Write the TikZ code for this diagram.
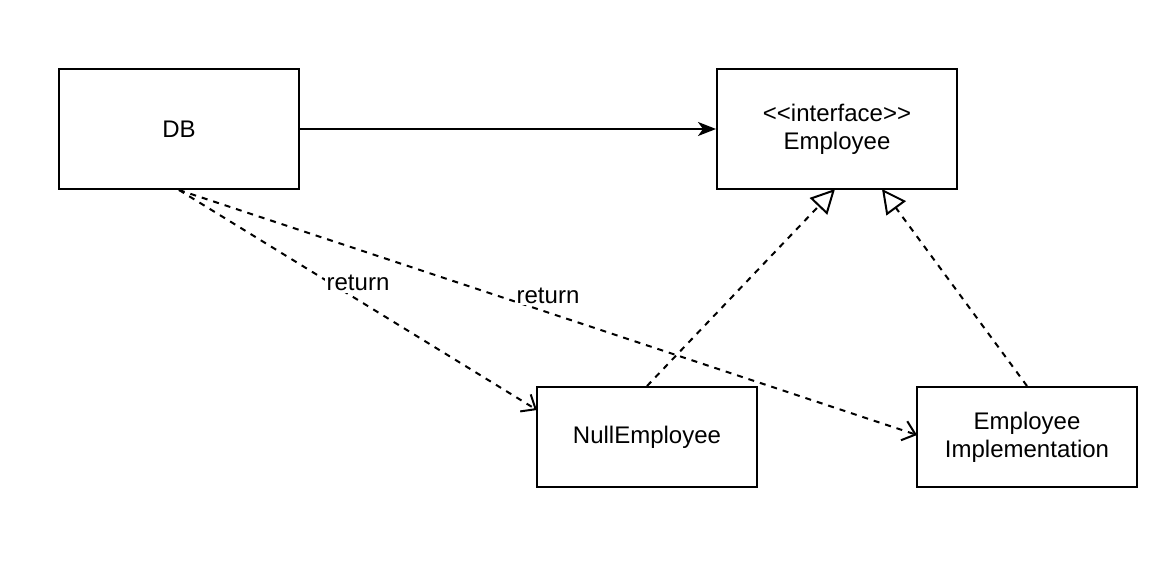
\documentclass[tikz,border=0pt]{standalone}
\usepackage{fontspec}
\setmainfont{Liberation Sans}[Ligatures=NoCommon]
\usetikzlibrary{arrows.meta}
\tikzset{x=0.5pt, y=-0.5pt, every picture/.style={line width=1pt},
  box/.style={draw, rectangle, minimum width=120pt, minimum height=60pt, font=\fontsize{12}{14}\selectfont, align=center},
  smallbox/.style={box, minimum width=110pt, minimum height=50pt},
  uses/.style={-{Stealth[length=9pt,width=7pt,inset=2.5pt]}},
  returns/.style={dash pattern=on 3pt off 3pt, -{Straight Barb[length=6pt,width=10pt]}},
  realizes/.style={dash pattern=on 3pt off 3pt, -{Triangle[open,length=12pt,width=12pt,fill=white]}},
  lbl/.style={fill=white, inner sep=1pt, font=\fontsize{12}{14}\selectfont}}

\begin{document}
\begin{tikzpicture}
\useasboundingbox (0,0) rectangle (1170,572);
\node(db) [box] at (179,129) {DB};
\node(emp) [box] at (837,129) {\textless{}\textless{}interface\textgreater{}\textgreater{}\\Employee};
\node(null) [smallbox] at (647,437) {NullEmployee};
\node(impl) [smallbox] at (1027,437) {Employee\\Implementation};
\coordinate (nullin) at (537,410);
\coordinate (implin) at (917,435);
\coordinate (empl) at (835,189);
\coordinate (empr) at (882,189);
\draw[uses] (db) to (emp);
\draw[returns] (db.south) to node[lbl, pos=0.5, yshift=8.5pt] {return} (nullin);
\draw[returns] (db.south) to node[lbl, pos=0.5, yshift=8.5pt] {return} (implin);
\draw[realizes] (null.north) to (empl);
\draw[realizes] (impl.north) to (empr);
\end{tikzpicture}
\end{document}
